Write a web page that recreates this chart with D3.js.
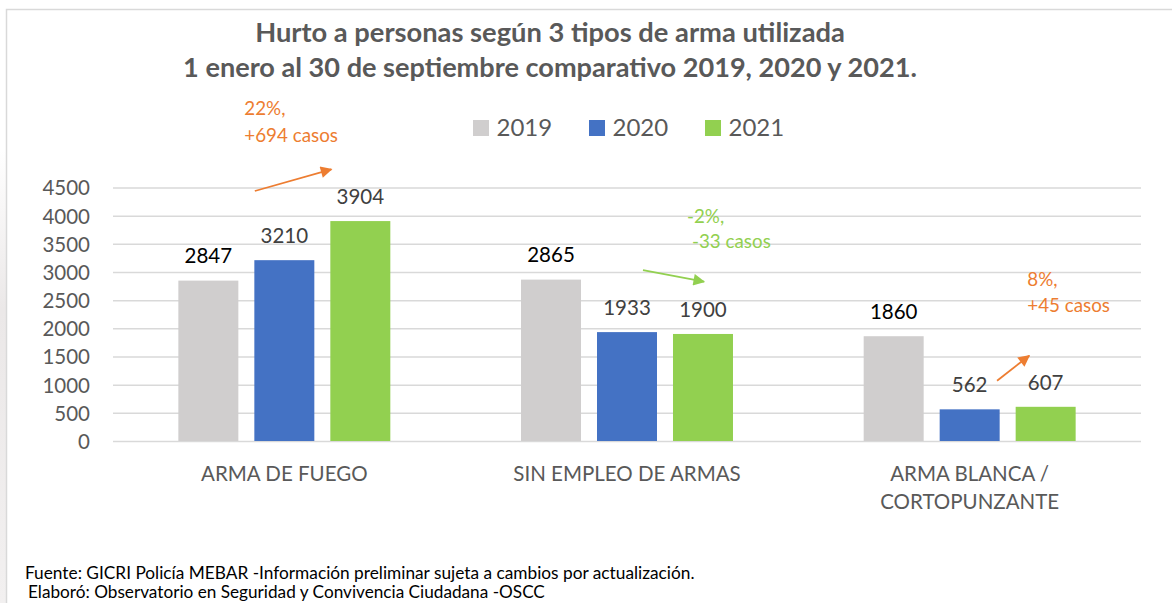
<!DOCTYPE html>
<html><head><meta charset="utf-8">
<script src="https://cdn.jsdelivr.net/npm/d3@7"></script>
<style>
body{margin:0;background:#fff}
svg{display:block}
text{font-family:Lato,"Open Sans",sans-serif}
</style>
</head><body>
<svg id="c" width="1172" height="603"></svg>
<script>
// ---------- data ----------
const titleLines = ["Hurto a personas según 3 tipos de arma utilizada",
                    "1 enero al 30 de septiembre comparativo 2019, 2020 y 2021."];
const categories = ["ARMA DE FUEGO", "SIN EMPLEO DE ARMAS", "ARMA BLANCA /\nCORTOPUNZANTE"];
const series = ["2019", "2020", "2021"];
const values2019 = [2847, 2865, 1860];
const values2020 = [3210, 1933, 562];
const values2021 = [3904, 1900, 607];
const yTicks = [0, 500, 1000, 1500, 2000, 2500, 3000, 3500, 4000, 4500];
const annotationTexts = [["22%,", "+694 casos"], ["-2%,", "-33 casos"], ["8%,", "+45 casos"]];
const footerLines = ["Fuente: GICRI Policía MEBAR -Información preliminar sujeta a cambios por actualización.",
                     "Elaboró: Observatorio en Seguridad y Convivencia Ciudadana -OSCC"];

// ---------- styles / layout ----------
const seriesColors = ["#D0CECE", "#4472C4", "#92D050"];
const labelColors = ["#000000", "#404040", "#404040"];
const annColors = ["#ED7D31", "#92D050", "#ED7D31"];
// annotation layout: x offsets (px) from category centre, y in value units
const annLayout = [
  {tx:[-40,-40], ty:[5787,5313], a:[[-29.5,4438],[47,4823]]},
  {tx:[60,65],   ty:[3865,3421], a:[[16,3035],[77,2828]]},
  {tx:[57.6,57.6], ty:[2751,2295], a:[[27.4,1070],[59.5,1514]]}
];
const plot = {left:113, right:1141, top:187.5, bottom:441};

const svg = d3.select("#c");
const values = [values2019, values2020, values2021];
const data = categories.map((c,i)=>({cat:c, vals:series.map((s,j)=>({s, j, v:values[j][i]}))}));

// frame + faint left shadow
const defs = svg.append("defs");
const g1 = defs.append("linearGradient").attr("id","sh").attr("x1",0).attr("x2",0).attr("y1",0).attr("y2",1);
g1.append("stop").attr("offset","0").attr("stop-color","#fff");
g1.append("stop").attr("offset","0.35").attr("stop-color","#ebe8e8");
g1.append("stop").attr("offset","1").attr("stop-color","#f2f0f0");
svg.append("rect").attr("x",0).attr("y",150).attr("width",6).attr("height",453).attr("fill","url(#sh)");
svg.append("path").attr("d","M6.5,603V9.5H1172").attr("fill","none").attr("stroke","#d9d9d9").attr("stroke-width",1.5);

// scales
const y = d3.scaleLinear().domain([0,4500]).range([plot.bottom, plot.top]);
const x0 = d3.scaleBand().domain(categories).range([plot.left, plot.right]).paddingInner(0).paddingOuter(0);
const x1 = d3.scaleBand().domain(series).range([0, x0.bandwidth()]).paddingInner(16/76).paddingOuter(0.86);

// gridlines
const grid = svg.append("g").attr("transform",`translate(${plot.left},0)`)
  .call(d3.axisLeft(y).tickValues(yTicks).tickSize(-(plot.right-plot.left)).tickFormat(""));
grid.select(".domain").remove();
grid.selectAll("line").attr("stroke","#d9d9d9").attr("stroke-width",1.5);

// y labels
const ya = svg.append("g").attr("transform",`translate(${plot.left},0)`)
  .call(d3.axisLeft(y).tickValues(yTicks).tickSize(0).tickPadding(23).tickFormat(d3.format("d")));
ya.select(".domain").remove();
ya.selectAll("text").attr("font-family","Lato").attr("font-size",20.5).attr("fill","#595959").attr("dy","0.36em");

// bars
const groups = svg.append("g").selectAll("g").data(data).join("g")
  .attr("transform",d=>`translate(${x0(d.cat)},0)`);
groups.selectAll("rect").data(d=>d.vals).join("rect")
  .attr("x",d=>x1(d.s)).attr("width",x1.bandwidth())
  .attr("y",d=>y(d.v)).attr("height",d=>y(0)-y(d.v))
  .attr("fill",d=>seriesColors[d.j]);
groups.selectAll("text").data(d=>d.vals).join("text")
  .attr("x",d=>x1(d.s)+x1.bandwidth()/2).attr("y",d=>y(d.v)-17.3)
  .attr("text-anchor","middle").attr("font-size",20.5)
  .attr("fill",d=>labelColors[d.j]).text(d=>d.v);

// category labels
svg.append("g").selectAll("text").data(categories).join("text")
  .attr("text-anchor","middle").attr("font-size",20.5).attr("fill","#595959")
  .attr("transform",d=>`translate(${x0(d)+x0.bandwidth()/2},480.7)`)
  .each(function(d){
    d.split("\n").forEach((l,i)=>d3.select(this).append("tspan").attr("x",0).attr("y",i*28.6).text(l));
  });

// legend
const leg = svg.append("g").selectAll("g").data(series).join("g")
  .attr("transform",(d,i)=>`translate(${473+i*116},0)`);
leg.append("rect").attr("x",0).attr("y",120).attr("width",16).attr("height",16).attr("fill",(d,i)=>seriesColors[i]);
leg.append("text").attr("x",23.5).attr("y",135.7).attr("font-size",24).attr("fill","#595959").text(d=>d);

// annotations
defs.selectAll("marker").data(annColors).join("marker")
  .attr("id",(d,i)=>"ah"+i).attr("viewBox","0 0 10 10").attr("refX",9).attr("refY",5)
  .attr("markerWidth",7.5).attr("markerHeight",6.5).attr("markerUnits","strokeWidth").attr("orient","auto")
  .append("path").attr("d","M0,0L10,5L0,10z").attr("fill",d=>d);
annLayout.forEach((a,i)=>{
  const cx = x0(categories[i]) + x0.bandwidth()/2;
  annotationTexts[i].forEach((t,k)=>{
    svg.append("text").attr("x",cx+a.tx[k]).attr("y",y(a.ty[k])).attr("font-size",18.8)
      .attr("fill",annColors[i]).text(t);
  });
  svg.append("line").attr("x1",cx+a.a[0][0]).attr("y1",y(a.a[0][1]))
    .attr("x2",cx+a.a[1][0]).attr("y2",y(a.a[1][1]))
    .attr("stroke",annColors[i]).attr("stroke-width",1.8).attr("marker-end",`url(#ah${i})`);
});

// title
function fit(sel, w){
  const n = sel.node(); const fs = parseFloat(sel.attr("font-size"));
  sel.attr("font-size", fs*w/n.getComputedTextLength());
}
const tW = [590, 734], tY = [41.7, 77.3];
titleLines.forEach((t,i)=>{
  const s = svg.append("text").attr("x",550).attr("y",tY[i]).attr("text-anchor","middle")
    .attr("font-weight","bold").attr("font-size",24).attr("fill","#595959").text(t);
  fit(s, tW[i]);
});

// footer
const fX = [25, 28], fY = [579, 598], fW = [670, 517];
footerLines.forEach((t,i)=>{
  const s = svg.append("text").attr("x",fX[i]).attr("y",fY[i]).attr("font-size",15).attr("fill","#000").text(t);
  fit(s, fW[i]);
});
</script>
</body></html>
